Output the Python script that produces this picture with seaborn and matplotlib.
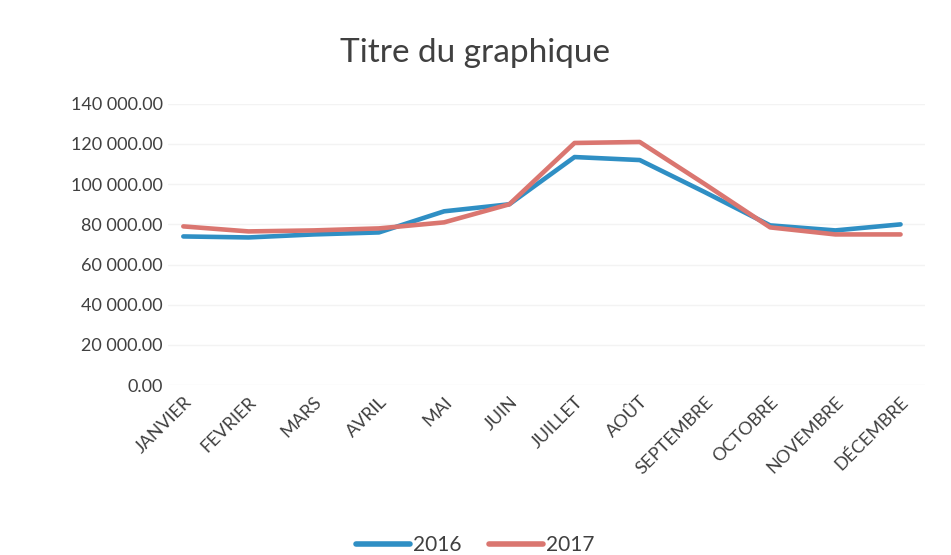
import matplotlib
matplotlib.use('Agg')
import matplotlib.pyplot as plt
import matplotlib.ticker as mticker
import seaborn as sns
import pandas as pd

months = ['JANVIER', 'FEVRIER', 'MARS', 'AVRIL', 'MAI', 'JUIN', 'JUILLET',
          'AOÛT', 'SEPTEMBRE', 'OCTOBRE', 'NOVEMBRE', 'DÉCEMBRE']
values_2016 = [74000, 73500, 75000, 76000, 86500, 90000, 113500, 112000,
               96000, 79500, 77000, 80000]
values_2017 = [79000, 76500, 77000, 78000, 81000, 90000, 120500, 121000,
               100000, 78500, 75000, 75000]
years = ['2016', '2017']
y_ticks = [0, 20000, 40000, 60000, 80000, 100000, 120000, 140000]

df = pd.DataFrame({
    'Mois': months * 2,
    'Montant': values_2016 + values_2017,
    'Année': [years[0]] * 12 + [years[1]] * 12,
})

sns.set_style('white')
plt.rcParams['font.family'] = ['Lato', 'DejaVu Sans']

fig = plt.figure(figsize=(9.51, 5.55), dpi=100)
ax = fig.add_axes([0.177, 0.306, 0.796, 0.507])

sns.lineplot(data=df, x='Mois', y='Montant', hue='Année', sort=False,
             palette={'2016': '#2F8FC4', '2017': '#DA7670'},
             linewidth=3.3, ax=ax, legend=False)

ax.set_xlim(-0.23, 11.38)
ax.set_ylim(0, 140000)
ax.set_yticks(y_ticks)
ax.yaxis.set_major_formatter(mticker.FuncFormatter(
    lambda v, p: f'{v:,.2f}'.replace(',', ' ')))
ax.grid(axis='y', color='#f3f3f3', linewidth=1)
for s in ax.spines.values():
    s.set_visible(False)
ax.tick_params(axis='both', length=0, colors='#404040', labelsize=13)
ax.tick_params(axis='y', pad=4)
ax.tick_params(axis='x', pad=6)
plt.setp(ax.get_xticklabels(), rotation=45, ha='right', rotation_mode='anchor',
         fontsize=13)
ax.set_xlabel('')
ax.set_ylabel('')

fig.text(0.5, 0.905, 'Titre du graphique', ha='center', va='center',
         fontsize=24, color='#404040')

handles = [plt.Line2D([], [], color='#2F8FC4', linewidth=4, solid_capstyle='round'),
           plt.Line2D([], [], color='#DA7670', linewidth=4, solid_capstyle='round')]
fig.legend(handles, years, loc='center', bbox_to_anchor=(0.5, 0.018), ncol=2,
           frameon=False, handlelength=2.6, handletextpad=0.15, columnspacing=1.3,
           fontsize=15, labelcolor='#404040')

fig.savefig('out.png', dpi=100, facecolor='white')
